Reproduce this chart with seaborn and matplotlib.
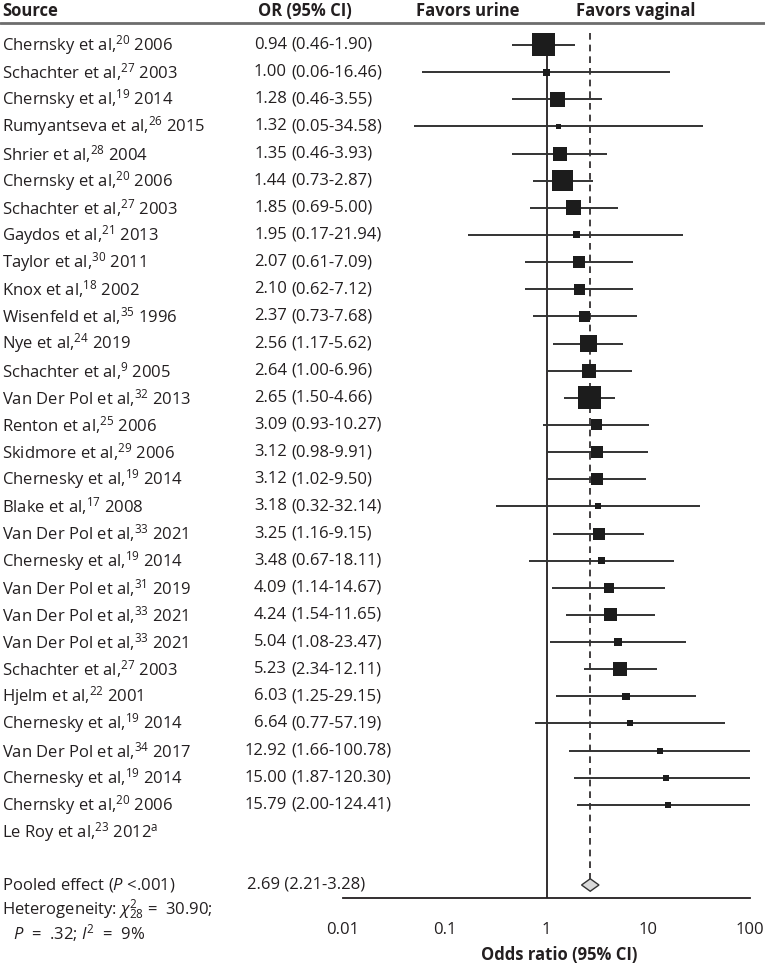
import matplotlib
matplotlib.use("Agg")
import matplotlib.pyplot as plt
import matplotlib.transforms as mtransforms
import numpy as np
import pandas as pd
import seaborn as sns

# study data
names = ["Chernsky et al", "Schachter et al", "Chernsky et al", "Rumyantseva et al",
         "Shrier et al", "Chernsky et al", "Schachter et al", "Gaydos et al",
         "Taylor et al", "Knox et al", "Wisenfeld et al", "Nye et al",
         "Schachter et al", "Van Der Pol et al", "Renton et al", "Skidmore et al",
         "Chernesky et al", "Blake et al", "Van Der Pol et al", "Chernesky et al",
         "Van Der Pol et al", "Van Der Pol et al", "Van Der Pol et al", "Schachter et al",
         "Hjelm et al", "Chernesky et al", "Van Der Pol et al", "Chernesky et al",
         "Chernsky et al", "Le Roy et al"]
refs = [20, 27, 19, 26, 28, 20, 27, 21, 30, 18, 35, 24, 9, 32, 25, 29, 19, 17, 33, 19,
        31, 33, 33, 27, 22, 19, 34, 19, 20, 23]
years = ["2006", "2003", "2014", "2015", "2004", "2006", "2003", "2013", "2011", "2002",
         "1996", "2019", "2005", "2013", "2006", "2006", "2014", "2008", "2021", "2014",
         "2019", "2021", "2021", "2003", "2001", "2014", "2017", "2014", "2006", "2012"]
odds = [0.94, 1.00, 1.28, 1.32, 1.35, 1.44, 1.85, 1.95, 2.07, 2.10, 2.37, 2.56, 2.64,
        2.65, 3.09, 3.12, 3.12, 3.18, 3.25, 3.48, 4.09, 4.24, 5.04, 5.23, 6.03, 6.64,
        12.92, 15.00, 15.79]
ci_low = [0.46, 0.06, 0.46, 0.05, 0.46, 0.73, 0.69, 0.17, 0.61, 0.62, 0.73, 1.17, 1.00,
          1.50, 0.93, 0.98, 1.02, 0.32, 1.16, 0.67, 1.14, 1.54, 1.08, 2.34, 1.25, 0.77,
          1.66, 1.87, 2.00]
ci_high = [1.90, 16.46, 3.55, 34.58, 3.93, 2.87, 5.00, 21.94, 7.09, 7.12, 7.68, 5.62,
           6.96, 4.66, 10.27, 9.91, 9.50, 32.14, 9.15, 18.11, 14.67, 11.65, 23.47, 12.11,
           29.15, 57.19, 100.78, 120.30, 124.41]
# study weight shown as square side (px)
weight_px = [23, 7, 15, 5, 14, 21, 15, 7, 12, 11, 11, 17, 14, 23, 11, 12, 12, 6, 12, 7.5,
             10, 13, 8, 14, 7.5, 6, 6, 6, 6]

pooled_or, pooled_lo, pooled_hi = 2.69, 2.21, 3.28
x_ticks = [0.01, 0.1, 1, 10, 100]
x_ticklabels = ["0.01", "0.1", "1", "10", "100"]

sns.set_style("white")
plt.rcParams["font.family"] = ["Open Sans", "DejaVu Sans"]
plt.rcParams["mathtext.fontset"] = "custom"
plt.rcParams["mathtext.rm"] = "Open Sans"
plt.rcParams["mathtext.it"] = "Open Sans:italic"
plt.rcParams["mathtext.bf"] = "Open Sans:bold"

INK = "#231f20"
FS = 12
W, H = 765, 975
row_px = 27.14
y0_px = 45

fig = plt.figure(figsize=(W / 100, H / 100), dpi=100)
ax_bottom_px = 898
ytop = -1.6
ybot = (ax_bottom_px - y0_px) / row_px
ax = fig.add_axes([343 / W, 1 - ax_bottom_px / H, (750 - 343) / W,
                   (ax_bottom_px - (y0_px + ytop * row_px)) / H])

df = pd.DataFrame({"row": np.arange(len(odds)), "or": odds, "lo": ci_low, "hi": ci_high,
                   "area": [(0.72 * w) ** 2 for w in weight_px]})

# CI whiskers
ax.hlines(df["row"], df["lo"], df["hi"], color="#333333", lw=1.4, zorder=2)
sns.scatterplot(data=df, x="or", y="row", size="area",
                sizes={a: a for a in df["area"].unique()}, marker="s",
                color="#1c1c1c", edgecolor="none", linewidth=0, legend=False,
                ax=ax, zorder=3)

# reference lines
pooled_row = (885 - y0_px) / row_px
ax.vlines(1, -0.44, ybot, color=INK, lw=1.3, zorder=1)
ax.vlines(pooled_or, -0.44, pooled_row - 0.23, color=INK, lw=1.2,
          linestyles=(0, (4, 3)), zorder=1)

# pooled diamond
dh = 0.23
ax.fill([pooled_lo, pooled_or, pooled_hi, pooled_or],
        [pooled_row, pooled_row - dh, pooled_row, pooled_row + dh],
        facecolor="#d9d9d9", edgecolor="#333333", lw=1.0, zorder=3)

ax.set_xscale("log")
ax.set_xlim(0.01, 100)
ax.set_ylim(ybot, ytop)
ax.set_xticks(x_ticks)
ax.set_xticklabels(x_ticklabels)
ax.minorticks_off()
ax.set_yticks([])
ax.set_xlabel("")
ax.set_ylabel("")
for s in ["left", "right", "top"]:
    ax.spines[s].set_visible(False)
ax.spines["bottom"].set_color(INK)
ax.spines["bottom"].set_linewidth(1.3)
ax.tick_params(axis="x", direction="out", length=10, width=1.3, color=INK,
               labelsize=FS, labelcolor=INK, pad=7)
ax.set_facecolor("white")

trans = mtransforms.blended_transform_factory(fig.transFigure, ax.transData)

def fx(px):
    return px / W

# header
hy = (11 - y0_px) / row_px
ax.text(fx(2), hy, "Source", transform=trans, fontsize=FS, fontweight="bold",
        color=INK, va="center", ha="left")
ax.text(fx(258), hy, "OR (95% CI)", transform=trans, fontsize=FS, fontweight="bold",
        color=INK, va="center", ha="left")
ax.text(fx(519), hy, "Favors urine", transform=trans, fontsize=FS, fontweight="bold",
        color=INK, va="center", ha="right")
ax.text(fx(576), hy, "Favors vaginal", transform=trans, fontsize=FS, fontweight="bold",
        color=INK, va="center", ha="left")
ly = (23 - y0_px) / row_px
ax.plot([0, 1], [ly, ly], transform=trans, color="#6d6d6d", lw=2, clip_on=False)

# study rows
for i, (n, r, yr) in enumerate(zip(names, refs, years)):
    suffix = r"$^{\mathrm{a}}$" if i == len(names) - 1 else ""
    ax.text(fx(2), i, f"{n},$^{{{r}}}$ {yr}{suffix}", transform=trans, fontsize=FS,
            color=INK, va="center", ha="left")
for i, (o, lo, hi) in enumerate(zip(odds, ci_low, ci_high)):
    ax.text(fx(287), i, f"{o:.2f}", transform=trans, fontsize=FS, color=INK,
            va="center", ha="right")
    ax.text(fx(291), i, f"({lo:.2f}-{hi:.2f})", transform=trans, fontsize=FS,
            color=INK, va="center", ha="left")

# pooled and heterogeneity
ax.text(fx(2), pooled_row, r"Pooled effect ($P$ <.001)", transform=trans, fontsize=FS,
        color=INK, va="center", ha="left")
ax.text(fx(247), pooled_row, f"{pooled_or:.2f} ({pooled_lo:.2f}-{pooled_hi:.2f})",
        transform=trans, fontsize=FS, color=INK, va="center", ha="left")
ax.text(fx(2), (910 - y0_px) / row_px, r"Heterogeneity: $\chi^{2}_{28}$ =  30.90;",
        transform=trans, fontsize=FS, color=INK, va="center", ha="left", clip_on=False)
ax.text(fx(13), (933 - y0_px) / row_px, r"$P$  =  .32; $I^{2}$  =  9%",
        transform=trans, fontsize=FS, color=INK, va="center", ha="left", clip_on=False)

fig.text(559 / W, 1 - 955 / H, "Odds ratio (95% CI)", fontsize=FS, fontweight="bold",
         color=INK, ha="center", va="center")

fig.savefig("out.png", dpi=100, facecolor="white")
